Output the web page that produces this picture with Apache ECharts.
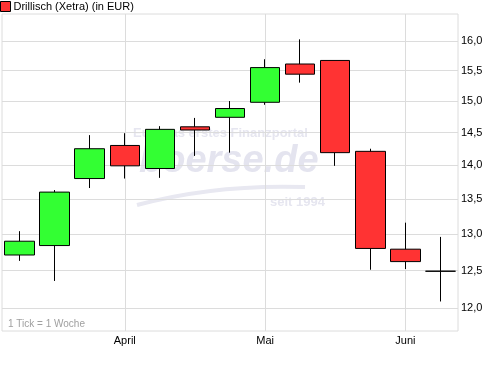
<!DOCTYPE html>
<html>
<head>
<meta charset="utf-8">
<script src="https://cdn.jsdelivr.net/npm/echarts@6/dist/echarts.min.js"></script>
<style>html,body{margin:0;padding:0;background:#fff}#c{width:500px;height:365px}</style>
</head>
<body>
<div id="c"></div>
<script>
// Weekly candles (Xetra, EUR)
const weeks = ['KW11','KW12','KW13','KW14','KW15','KW16','KW17','KW18','KW19','KW20','KW21','KW22','KW23'];
const monthLabels = {3: 'April', 7: 'Mai', 11: 'Juni'};
const openVals  = [12.71, 12.84, 13.80, 14.30, 13.95, 14.59, 14.74, 14.98, 15.61, 15.67, 14.21, 12.79, 12.49];
const closeVals = [12.90, 13.60, 14.25, 13.99, 14.55, 14.54, 14.88, 15.55, 15.44, 14.19, 12.80, 12.62, 12.49];
const lowVals   = [12.63, 12.36, 13.66, 13.80, 13.81, 14.14, 14.19, 14.94, 15.30, 13.99, 12.51, 12.52, 12.09];
const highVals  = [13.04, 13.63, 14.46, 14.49, 14.60, 14.73, 15.00, 15.69, 16.03, 15.67, 14.25, 13.16, 12.96];
const yTicks = [12.0, 12.5, 13.0, 13.5, 14.0, 14.5, 15.0, 15.5, 16.0];
const yMin = 11.712, yMax = 16.473;
const seriesName = 'Drillisch (Xetra) (in EUR)';

// logarithmic price scale: values mapped through ln for the value axis
const L = Math.log;
const candleData = weeks.map((w, i) => [L(openVals[i]), L(closeVals[i]), L(lowVals[i]), L(highVals[i])]);
const tickVals = yTicks.map(L);

const chart = echarts.init(document.getElementById('c'), null, {renderer: 'canvas'});
chart.setOption({
  animation: false,
  backgroundColor: '#fff',
  textStyle: {fontFamily: 'Liberation Sans, Arial, sans-serif'},
  legend: {
    left: 0, top: 1, padding: 0, itemWidth: 10, itemHeight: 10, itemGap: 4,
    selectedMode: false,
    textStyle: {fontSize: 11, color: '#000', padding: [0, 0, 0, -2]},
    data: [{name: seriesName, icon: 'rect', itemStyle: {color: '#ff3333', borderColor: '#000', borderWidth: 1}}]
  },
  grid: {left: 2, top: 14, width: 456, height: 317, show: true, borderColor: '#dcdcdc', borderWidth: 1, backgroundColor: 'transparent'},
  xAxis: {
    type: 'category', data: weeks, boundaryGap: true,
    axisLine: {show: false}, axisTick: {show: false}, splitLine: {show: false},
    axisLabel: {interval: 0, margin: 4, fontSize: 11, color: '#000', formatter: (v, i) => monthLabels[i] || ''}
  },
  yAxis: {
    type: 'value', position: 'right', min: L(yMin), max: L(yMax), scale: true,
    axisLine: {show: false},
    axisTick: {show: false, customValues: tickVals},
    axisLabel: {customValues: tickVals, margin: 3, fontSize: 11, color: '#000',
      formatter: v => Math.exp(v).toFixed(1).replace('.', ',')},
    splitLine: {show: true, lineStyle: {color: '#dcdcdc', width: 1}}
  },
  graphic: [
    {type: 'text', left: 133, top: 127, z: -1, silent: true,
      style: {text: 'Europas erstes Finanzportal', fill: '#e6e6f0', font: 'bold 13px Liberation Sans, Arial'}},
    {type: 'text', left: 139, top: 143, z: -1, silent: true,
      style: {text: 'boerse.de', fill: '#e4e4ef', font: 'italic bold 38px Liberation Sans, Arial'}},
    {type: 'bezierCurve', z: -1, silent: true,
      shape: {x1: 137, y1: 205, x2: 305, y2: 187, cpx1: 215, cpy1: 184},
      style: {fill: 'none', stroke: '#e8e8f1', lineWidth: 4}},
    {type: 'text', left: 270, top: 196, z: -1, silent: true,
      style: {text: 'seit 1994', fill: '#e6e6f0', font: 'bold 13px Liberation Sans, Arial'}},
    {type: 'text', left: 8, top: 319, silent: true,
      style: {text: '1 Tick = 1 Woche', fill: '#a0a0a0', font: '10px Liberation Sans, Arial'}}
  ],
  series: [
    {
      name: 'grid-v', type: 'line', data: [], z: 1, silent: true,
      markLine: {
        silent: true, symbol: ['none', 'none'], z: 1, animation: false,
        label: {show: false},
        lineStyle: {color: '#dcdcdc', type: 'solid', width: 1},
        data: Object.keys(monthLabels).map(k => ({xAxis: Number(k)}))
      }
    },
    {
      name: seriesName, type: 'candlestick', data: candleData, barWidth: 30, z: 3,
      itemStyle: {color: '#33ff33', color0: '#ff3333', borderColor: '#000', borderColor0: '#000', borderWidth: 1}
    }
  ]
});
</script>
</body>
</html>
